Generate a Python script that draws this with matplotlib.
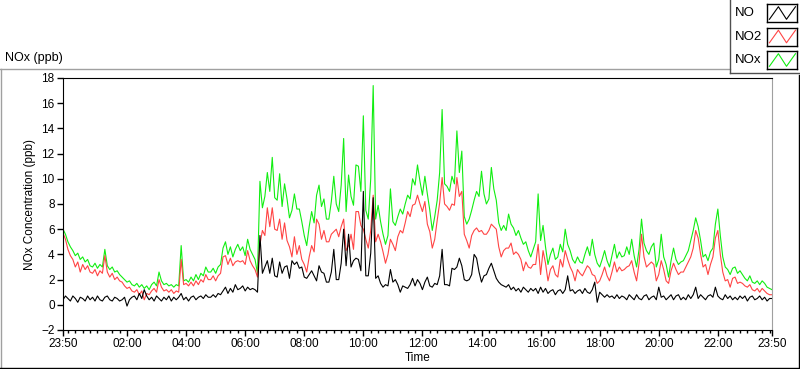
import numpy as np
import matplotlib
matplotlib.use("Agg")
import matplotlib.pyplot as plt
from matplotlib.lines import Line2D
from matplotlib.ticker import FixedLocator

plt.rcParams['font.family'] = ['Liberation Sans', 'DejaVu Sans']

# 5-minute samples starting at 23:50, one row per hour
nox = [
    6.0, 5.6, 5.0, 4.6, 4.3, 3.9, 4.1, 3.6, 3.8, 3.4, 3.6, 3.1,
    3.0, 3.3, 2.9, 3.2, 3.0, 4.4, 3.1, 2.8, 3.0, 2.6, 2.7, 2.4,
    2.2, 2.0, 1.8, 1.9, 1.6, 1.5, 1.7, 1.4, 1.6, 1.3, 1.5, 1.2,
    1.6, 1.8, 1.5, 2.6, 1.9, 1.6, 1.7, 1.5, 1.6, 1.4, 1.6, 1.5,
    4.7, 1.9, 2.0, 1.8, 2.2, 1.9, 2.4, 2.0, 2.5, 2.3, 3.0, 2.6,
    2.6, 2.9, 2.5, 3.0, 3.2, 4.5, 5.0, 4.0, 4.6, 3.8, 4.4, 4.8,
    4.3, 4.6, 3.9, 5.2, 4.4, 4.0, 3.6, 2.5, 9.8, 7.7, 8.6, 10.5,
    9.0, 11.7, 8.5, 8.3, 10.4, 7.8, 9.6, 8.4, 6.9, 7.5, 8.8, 7.6,
    7.6, 6.6, 5.5, 4.7, 6.2, 7.4, 6.5, 8.7, 9.5, 7.8, 8.4, 6.8,
    6.8, 8.2, 10.2, 8.0, 7.4, 9.5, 13.2, 7.4, 10.3, 8.6, 7.9, 11.1,
    11.0, 9.0, 15.0, 7.5, 6.8, 10.0, 17.4, 6.8, 7.9, 6.6, 5.6, 4.8,
    5.5, 9.2, 6.6, 6.3, 7.0, 7.6, 7.2, 8.0, 8.7, 8.4, 10.0, 9.5,
    11.1, 9.8, 8.7, 10.2, 8.8, 7.5, 5.9, 7.0, 8.3, 10.5, 15.5, 9.6,
    9.4, 9.0, 10.2, 9.6, 13.8, 10.5, 12.2, 7.0, 6.4, 6.8, 7.5, 8.3,
    9.0, 8.6, 10.6, 8.8, 8.0, 8.4, 10.9, 9.2, 8.3, 6.5, 5.9, 6.3,
    5.9, 7.2, 6.4, 6.1, 5.5, 5.9, 5.3, 4.8, 5.0, 4.3, 3.8, 4.4,
    5.0, 8.8, 5.1, 6.3, 4.6, 3.2, 4.0, 4.5, 3.6, 3.8, 4.8, 4.2,
    6.0, 4.8, 4.3, 3.6, 3.3, 3.8, 3.4, 3.3, 4.0, 4.6, 3.9, 5.2,
    4.0, 3.3, 3.0, 3.6, 4.3, 3.5, 3.0, 3.9, 4.8, 3.7, 4.2, 3.8,
    3.9, 4.6, 4.0, 5.2, 3.9, 3.0, 4.4, 6.8, 4.9, 4.3, 4.0, 4.6,
    4.9, 3.0, 3.6, 5.6, 3.8, 3.2, 2.2, 3.5, 4.5, 3.6, 3.2, 3.4,
    3.5, 3.9, 4.3, 5.1, 5.9, 6.9, 6.2, 5.1, 3.8, 4.0, 3.5, 4.2,
    4.5, 6.4, 7.6, 5.5, 3.8, 3.0, 2.8, 2.4, 2.9, 3.0, 2.5, 2.7,
    2.4, 2.1, 1.9, 2.3, 1.8, 1.7, 1.9, 1.6, 1.9, 1.7, 1.4, 1.3,
    1.2,
]

no2 = [
    5.7, 5.2, 4.4, 3.9, 3.6, 3.0, 3.4, 2.6, 3.2, 2.8, 3.1, 2.6,
    2.5, 2.8, 2.3, 2.7, 2.5, 3.9, 2.6, 2.2, 2.5, 2.0, 2.2, 1.9,
    1.8, 1.5, 1.3, 1.4, 1.1, 1.0, 1.2, 0.8, 1.1, 0.4, 0.9, 0.8,
    1.1, 1.3, 1.0, 2.0, 1.4, 1.1, 1.2, 1.0, 1.2, 0.9, 1.1, 1.0,
    3.6, 1.6, 1.7, 1.5, 1.8, 1.5, 1.9, 1.6, 2.0, 1.8, 2.4, 2.0,
    2.0, 2.3, 1.9, 2.3, 2.5, 3.8, 3.9, 3.2, 3.7, 3.1, 3.4, 3.5,
    3.4, 3.5, 3.2, 4.3, 3.5, 3.1, 2.8, 2.2, 4.8, 5.9, 5.5, 7.7,
    6.2, 7.7, 6.0, 5.9, 6.8, 5.2, 6.5, 5.1, 4.6, 3.8, 5.4, 4.0,
    4.7, 3.6, 3.2, 2.6, 3.8, 4.7, 4.2, 6.8, 6.4, 5.2, 5.9, 5.0,
    5.0, 5.6, 5.8, 6.0, 5.4, 6.2, 6.8, 4.3, 4.7, 5.6, 4.4, 7.4,
    7.4, 6.3, 6.0, 5.2, 4.5, 5.9, 8.7, 5.0, 5.6, 5.0, 4.2, 3.3,
    4.0, 5.2, 4.8, 4.3, 5.4, 5.9, 5.7, 6.5, 7.4, 7.0, 7.9, 8.0,
    8.7, 8.0, 7.4, 8.2, 6.4, 5.8, 4.5, 5.2, 6.7, 8.1, 10.1, 8.0,
    7.8, 7.5, 8.0, 7.9, 10.1, 8.6, 9.0, 5.6, 5.1, 4.5, 5.5, 5.9,
    6.1, 5.8, 5.9, 5.6, 5.6, 5.9, 6.4, 6.2, 6.0, 4.6, 3.8, 4.3,
    4.5, 4.5, 4.9, 4.0, 4.2, 4.0, 3.6, 2.7, 3.4, 3.0, 2.9, 3.2,
    3.2, 4.8, 2.4, 4.3, 3.3, 1.9, 2.8, 3.1, 2.4, 2.2, 3.6, 3.0,
    4.3, 3.6, 3.0, 2.6, 1.9, 2.8, 2.5, 2.3, 2.7, 3.1, 2.9, 2.4,
    2.3, 1.7, 1.9, 2.4, 3.0, 2.3, 1.9, 2.6, 3.4, 2.6, 3.0, 2.7,
    2.8, 3.0, 3.1, 3.5, 2.6, 1.9, 3.3, 5.6, 3.8, 3.0, 3.2, 3.4,
    3.2, 1.9, 2.4, 3.5, 2.8, 1.9, 1.7, 2.7, 3.3, 2.8, 2.4, 2.6,
    2.6, 3.0, 3.4, 3.8, 4.5, 5.9, 5.3, 4.0, 3.0, 3.2, 2.4, 3.2,
    3.8, 5.3, 5.9, 4.0, 2.6, 1.9, 2.0, 1.4, 2.1, 2.2, 1.7, 1.8,
    1.7, 1.5, 1.4, 1.6, 1.2, 1.1, 1.3, 1.0, 1.3, 1.1, 0.9, 0.8,
    0.8,
]

no = [
    0.4, 0.7, 0.5, 0.3, 0.7, 0.5, 0.2, 0.6, 0.5, 0.3, 0.7, 0.4,
    0.6, 0.3, 0.7, 0.4, 0.3, 0.6, 0.7, 0.4, 0.3, 0.6, 0.5, 0.3,
    0.4, 0.6, -0.1, 0.4, 0.6, 0.7, 0.4, 0.9, 0.5, 1.2, 0.7, 0.4,
    0.6, 0.3, 0.7, 0.5, 0.3, 0.6, 0.4, 0.7, 0.3, 0.6, 0.4, 0.6,
    0.9, 0.4, 0.6, 0.3, 0.6, 0.7, 0.4, 0.6, 0.7, 0.5, 0.8, 0.6,
    0.6, 0.8, 0.6, 0.9, 0.8, 1.1, 1.4, 0.9, 1.3, 1.0, 1.6, 1.2,
    1.3, 1.5, 1.1, 1.4, 1.2, 1.3, 1.2, 1.0, 5.5, 2.5, 3.0, 3.5,
    2.5, 3.7, 2.3, 2.2, 3.4, 2.5, 3.0, 3.1, 2.1, 3.5, 3.2, 3.4,
    2.9, 3.0, 2.2, 2.1, 2.4, 2.7, 2.3, 1.9, 3.1, 2.6, 2.5, 1.8,
    1.8, 2.6, 4.4, 2.0, 2.0, 3.3, 6.0, 3.1, 5.6, 3.0, 3.5, 3.7,
    3.6, 2.7, 9.0, 2.3, 2.3, 4.1, 8.5, 2.1, 2.3, 1.7, 1.4, 1.6,
    1.5, 2.8, 1.8, 2.0, 1.6, 1.0, 1.5, 1.4, 1.3, 1.6, 2.1, 1.5,
    2.0, 1.7, 1.2, 1.8, 2.2, 1.5, 1.4, 1.7, 1.6, 2.3, 4.4, 1.6,
    1.6, 1.5, 2.9, 2.8, 3.0, 3.7, 3.1, 2.0, 1.9, 2.0, 2.4, 4.0,
    3.7, 2.6, 1.8, 2.3, 2.4, 2.9, 3.3, 2.7, 2.1, 1.8, 1.6, 1.5,
    1.4, 1.6, 1.2, 1.4, 1.1, 1.3, 1.0, 1.4, 1.2, 1.0, 1.3, 1.1,
    1.3, 0.9, 1.4, 1.0, 1.3, 0.9, 1.1, 1.2, 0.8, 1.1, 1.2, 0.9,
    1.2, 2.3, 1.1, 1.2, 0.9, 1.1, 1.2, 0.9, 1.3, 1.0, 0.9, 1.2,
    1.8, 0.2, 1.0, 0.8, 0.6, 0.8, 0.6, 0.7, 0.5, 0.8, 0.5, 0.7,
    0.6, 0.4, 0.8, 0.6, 0.4, 0.8, 0.5, 0.4, 0.7, 0.8, 0.4, 0.6,
    0.7, 0.4, 1.4, 0.6, 0.7, 0.4, 0.6, 0.8, 0.4, 0.7, 0.8, 0.4,
    0.6, 0.4, 0.8, 0.5, 0.8, 1.4, 0.5, 0.8, 0.6, 0.4, 0.7, 0.8,
    0.6, 1.4, 0.7, 0.5, 0.4, 0.8, 0.5, 0.7, 0.4, 0.6, 0.4, 0.7,
    0.5, 0.7, 0.3, 0.6, 0.7, 0.4, 0.5, 0.7, 0.4, 0.6, 0.3, 0.5,
    0.5,
]

# minutes since 23:50
minutes = np.arange(len(nox)) * 5

xtick_pos = [0, 130, 250, 370, 490, 610, 730, 850, 970, 1090, 1210, 1330, 1440]
xtick_labels = ["23:50", "02:00", "04:00", "06:00", "08:00", "10:00", "12:00",
                "14:00", "16:00", "18:00", "20:00", "22:00", "23:50"]
yticks = [-2, 0, 2, 4, 6, 8, 10, 12, 14, 16, 18]

series = [("NO", no, "black"), ("NO2", no2, "#ff4444"), ("NOx", nox, "#11ee11")]

fig = plt.figure(figsize=(8, 3.69), dpi=100)
W, H = 800, 369

def fx(px):
    return px / W

def fy(py):
    return 1 - py / H

ax = fig.add_axes([fx(63), fy(330), fx(772) - fx(63), fy(78) - fy(330)])

ax.plot(minutes, nox, color="#11ee11", lw=0.8)
ax.plot(minutes, no2, color="#ff4444", lw=0.8)
ax.plot(minutes, no, color="black", lw=0.8)

ax.set_xlim(0, 1440)
ax.set_ylim(-2, 18)
ax.set_xticks(xtick_pos)
ax.set_xticklabels(xtick_labels)
ax.xaxis.set_minor_locator(FixedLocator(np.arange(10, 1440, 15)))
ax.set_yticks(yticks)
ax.tick_params(axis="both", which="major", length=4, width=1, labelsize=8.5, pad=2)
ax.tick_params(axis="x", which="minor", length=2.5, width=1)
ax.spines["right"].set_color("#a0a0a0")
for s in ["left", "bottom", "top"]:
    ax.spines[s].set_color("black")

ax.set_xlabel("Time", fontsize=8.5, labelpad=1)
ax.set_ylabel("NOx Concentration (ppb)", fontsize=8.5, labelpad=4)

# panel border
fig.add_artist(Line2D([0, fx(730)], [fy(69), fy(69)], color="#a0a0a0", lw=1))
fig.add_artist(Line2D([fx(0.5), fx(0.5)], [fy(69), fy(368)], color="#a0a0a0", lw=1))
fig.add_artist(Line2D([0, 1], [fy(367.5), fy(367.5)], color="black", lw=1))
fig.add_artist(Line2D([fx(799), fx(799)], [fy(75), fy(368)], color="black", lw=1))

fig.text(fx(5), fy(58), "NOx (ppb)", fontsize=9, va="center", ha="left")

# legend box
fig.add_artist(Line2D([fx(730), fx(730)], [1, fy(73)], color="#505050", lw=1))
fig.add_artist(Line2D([fx(730), fx(799)], [fy(73), fy(73)], color="#505050", lw=1))
for i, (name, _, col) in enumerate(series):
    yc = 13 + i * 23.5
    fig.text(fx(735), fy(yc), name, fontsize=9.5, va="center", ha="left")
    iax = fig.add_axes([fx(767), fy(yc + 9), fx(30), fy(0) - fy(18)])
    iax.plot([0.08, 0.38, 0.65, 0.95], [0.15, 0.85, 0.15, 0.85], color=col, lw=0.8)
    iax.set_xlim(0, 1)
    iax.set_ylim(0, 1)
    iax.set_xticks([])
    iax.set_yticks([])
    for s in iax.spines.values():
        s.set_color("black")
        s.set_linewidth(1)

fig.savefig("out.png", dpi=100)
